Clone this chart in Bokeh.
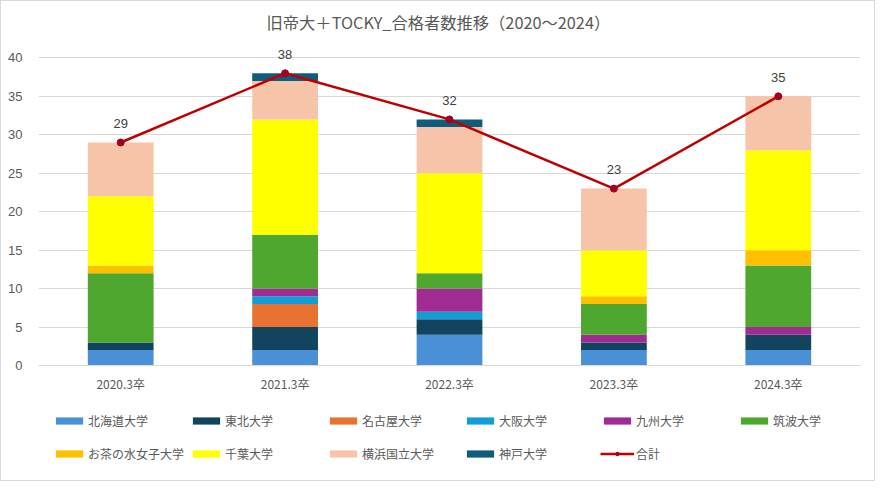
from bokeh.plotting import figure
from bokeh.models import ColumnDataSource, Legend, LegendItem, FactorRange, FixedTicker, Range1d
from bokeh.layouts import column
from bokeh.embed import file_html
from bokeh.resources import INLINE

years = ["2020.3卒", "2021.3卒", "2022.3卒", "2023.3卒", "2024.3卒"]
universities = ["北海道大学", "東北大学", "名古屋大学", "大阪大学", "九州大学",
                "筑波大学", "お茶の水女子大学", "千葉大学", "横浜国立大学", "神戸大学"]
hokkaido = [2, 2, 4, 2, 2]
tohoku = [1, 3, 2, 1, 2]
nagoya = [0, 3, 0, 0, 0]
osaka = [0, 1, 1, 0, 0]
kyushu = [0, 1, 3, 1, 1]
tsukuba = [9, 7, 2, 4, 8]
ochanomizu = [1, 0, 0, 1, 2]
chiba = [9, 15, 13, 6, 13]
yokohama = [7, 5, 6, 8, 7]
kobe = [0, 1, 1, 0, 0]
total = [29, 38, 32, 23, 35]
y_ticks = [0, 5, 10, 15, 20, 25, 30, 35, 40]

colors = ["#4A90D6", "#12445E", "#E97132", "#0F9ED5", "#A02B93",
          "#4EA72E", "#FFC000", "#FFFF00", "#F5C4A9", "#0F5C7C"]
LINE_COLOR = "#C00000"
MARKER_COLOR = "#A3001E"

series = [hokkaido, tohoku, nagoya, osaka, kyushu, tsukuba, ochanomizu, chiba, yokohama, kobe]
keys = ["s%d" % i for i in range(len(series))]
data = {"x": years, "total": total, "total_lbl": [str(t) for t in total]}
for k, s in zip(keys, series):
    data[k] = s
src = ColumnDataSource(data)

FONT = "Noto Sans CJK JP"
GRAY = "#595959"

# ---- main chart ----
p = figure(x_range=FactorRange(*years, range_padding=0), y_range=(0, 42),
           width=873, height=400, output_backend="svg", toolbar_location=None,
           min_border_left=37, min_border_right=14, min_border_top=41, min_border_bottom=36)
p.outline_line_color = None

p.title.text = "旧帝大＋TOCKY_合格者数推移（2020～2024）"
p.title.align = "left"
p.title.vertical_align = "middle"
p.title.offset = 228
p.title.text_font = FONT
p.title.text_font_size = "16.3px"
p.title.text_font_style = "normal"
p.title.text_color = GRAY
p.title.text_line_height = 1.0
p.title.standoff = 15

bars = p.vbar_stack(keys, x="x", width=0.4, source=src, color=colors, line_color=None)

p.line("x", "total", source=src, line_color=LINE_COLOR, line_width=2.5)
p.scatter("x", "total", source=src, size=7, fill_color=MARKER_COLOR, line_color=MARKER_COLOR)
p.text("x", "total", text="total_lbl", source=src, text_align="center", text_baseline="middle",
       y_offset=-19, text_font_size="13px", text_color="#404040")

p.yaxis.ticker = FixedTicker(ticks=y_ticks)
p.yaxis.axis_line_color = None
p.yaxis.major_tick_line_color = None
p.yaxis.minor_tick_line_color = None
p.yaxis.major_label_text_color = GRAY
p.yaxis.major_label_text_font_size = "13px"
p.yaxis.major_label_standoff = 10

p.xaxis.axis_line_color = "#D9D9D9"
p.xaxis.major_tick_line_color = None
p.xaxis.minor_tick_line_color = None
p.xaxis.major_label_text_color = GRAY
p.xaxis.major_label_text_font = FONT
p.xaxis.major_label_text_font_size = "12px"
p.xaxis.major_label_standoff = 3

p.xgrid.grid_line_color = None
p.ygrid.grid_line_color = "#D9D9D9"

# ---- legend strip: hidden copies of the series, used only for the legend ----
lg = figure(x_range=FactorRange(*years), y_range=Range1d(0, 42),
            width=873, height=79, output_backend="svg", toolbar_location=None,
            min_border=0, x_axis_location=None, y_axis_location=None)
lg.outline_line_color = None
lg.grid.visible = False
lg_items = []
for u, c, k in zip(universities, colors, keys):
    r = lg.vbar(x="x", top=k, source=src, width=0.4, fill_color=c, line_color=None, visible=False)
    lg_items.append(LegendItem(label=u, renderers=[r]))
r_line = lg.line("x", "total", source=src, line_color=LINE_COLOR, line_width=2.5, visible=False)
r_pts = lg.scatter("x", "total", source=src, size=7, fill_color=MARKER_COLOR,
                   line_color=MARKER_COLOR, visible=False)
lg_items.append(LegendItem(label="合計", renderers=[r_line, r_pts]))

legend = Legend(items=lg_items, orientation="horizontal", ncols=6,
                location=(14, 10), padding=0, margin=0, spacing=0,
                glyph_width=34, glyph_height=9, label_standoff=2,
                label_width=101, label_height=33,
                label_text_font=FONT, label_text_font_size="12px", label_text_color=GRAY,
                border_line_color=None, background_fill_alpha=0,
                inactive_fill_alpha=0)
lg.add_layout(legend, "center")

layout = column(p, lg, spacing=0,
                styles={"border": "1px solid #D9D9D9", "background-color": "white"})

open("out.html", "w").write(file_html(layout, INLINE))
